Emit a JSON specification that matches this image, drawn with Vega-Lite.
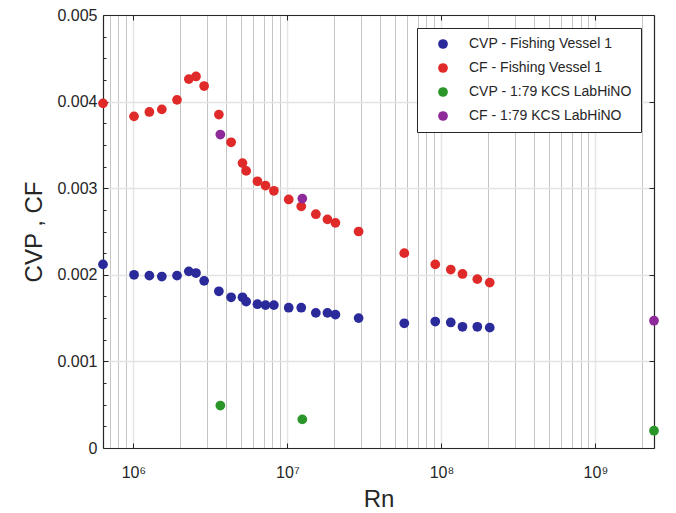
{
  "$schema": "https://vega.github.io/schema/vega-lite/v6.json",
  "width": 551,
  "height": 433,
  "autosize": {"type": "none"},
  "padding": {"left": 103, "top": 15, "right": 22, "bottom": 65},
  "background": "white",
  "config": {
    "view": {"stroke": null},
    "font": "Liberation Sans",
    "axis": {"labelFont": "Liberation Sans", "titleFont": "Liberation Sans", "labelColor": "#262626", "titleColor": "#262626", "domainColor": "#262626", "tickColor": "#262626", "titleFontWeight": "normal"}
  },
  "data": {
    "values": [
      {"Rn": 635000, "C": 0.00398, "series": "CF - Fishing Vessel 1"},
      {"Rn": 1010000, "C": 0.00383, "series": "CF - Fishing Vessel 1"},
      {"Rn": 1270000, "C": 0.00388, "series": "CF - Fishing Vessel 1"},
      {"Rn": 1530000, "C": 0.00391, "series": "CF - Fishing Vessel 1"},
      {"Rn": 1920000, "C": 0.00402, "series": "CF - Fishing Vessel 1"},
      {"Rn": 2290000, "C": 0.00426, "series": "CF - Fishing Vessel 1"},
      {"Rn": 2550000, "C": 0.00429, "series": "CF - Fishing Vessel 1"},
      {"Rn": 2880000, "C": 0.00418, "series": "CF - Fishing Vessel 1"},
      {"Rn": 3590000, "C": 0.00385, "series": "CF - Fishing Vessel 1"},
      {"Rn": 4310000, "C": 0.00353, "series": "CF - Fishing Vessel 1"},
      {"Rn": 5110000, "C": 0.00329, "series": "CF - Fishing Vessel 1"},
      {"Rn": 5400000, "C": 0.0032, "series": "CF - Fishing Vessel 1"},
      {"Rn": 6390000, "C": 0.00308, "series": "CF - Fishing Vessel 1"},
      {"Rn": 7210000, "C": 0.00303, "series": "CF - Fishing Vessel 1"},
      {"Rn": 8170000, "C": 0.00297, "series": "CF - Fishing Vessel 1"},
      {"Rn": 10200000, "C": 0.00287, "series": "CF - Fishing Vessel 1"},
      {"Rn": 12300000, "C": 0.00279, "series": "CF - Fishing Vessel 1"},
      {"Rn": 15300000, "C": 0.0027, "series": "CF - Fishing Vessel 1"},
      {"Rn": 18200000, "C": 0.00264, "series": "CF - Fishing Vessel 1"},
      {"Rn": 20500000, "C": 0.0026, "series": "CF - Fishing Vessel 1"},
      {"Rn": 29000000, "C": 0.0025, "series": "CF - Fishing Vessel 1"},
      {"Rn": 57400000, "C": 0.00225, "series": "CF - Fishing Vessel 1"},
      {"Rn": 91200000, "C": 0.00212, "series": "CF - Fishing Vessel 1"},
      {"Rn": 115000000, "C": 0.00206, "series": "CF - Fishing Vessel 1"},
      {"Rn": 137000000, "C": 0.00201, "series": "CF - Fishing Vessel 1"},
      {"Rn": 171000000, "C": 0.00195, "series": "CF - Fishing Vessel 1"},
      {"Rn": 206000000, "C": 0.00191, "series": "CF - Fishing Vessel 1"},
      {"Rn": 635000, "C": 0.00212, "series": "CVP - Fishing Vessel 1"},
      {"Rn": 1010000, "C": 0.002, "series": "CVP - Fishing Vessel 1"},
      {"Rn": 1270000, "C": 0.00199, "series": "CVP - Fishing Vessel 1"},
      {"Rn": 1530000, "C": 0.00198, "series": "CVP - Fishing Vessel 1"},
      {"Rn": 1920000, "C": 0.00199, "series": "CVP - Fishing Vessel 1"},
      {"Rn": 2290000, "C": 0.00204, "series": "CVP - Fishing Vessel 1"},
      {"Rn": 2550000, "C": 0.00202, "series": "CVP - Fishing Vessel 1"},
      {"Rn": 2880000, "C": 0.00193, "series": "CVP - Fishing Vessel 1"},
      {"Rn": 3590000, "C": 0.00181, "series": "CVP - Fishing Vessel 1"},
      {"Rn": 4310000, "C": 0.00174, "series": "CVP - Fishing Vessel 1"},
      {"Rn": 5110000, "C": 0.00174, "series": "CVP - Fishing Vessel 1"},
      {"Rn": 5400000, "C": 0.00169, "series": "CVP - Fishing Vessel 1"},
      {"Rn": 6390000, "C": 0.00166, "series": "CVP - Fishing Vessel 1"},
      {"Rn": 7210000, "C": 0.00165, "series": "CVP - Fishing Vessel 1"},
      {"Rn": 8170000, "C": 0.00165, "series": "CVP - Fishing Vessel 1"},
      {"Rn": 10200000, "C": 0.00162, "series": "CVP - Fishing Vessel 1"},
      {"Rn": 12300000, "C": 0.00162, "series": "CVP - Fishing Vessel 1"},
      {"Rn": 15300000, "C": 0.00156, "series": "CVP - Fishing Vessel 1"},
      {"Rn": 18200000, "C": 0.00156, "series": "CVP - Fishing Vessel 1"},
      {"Rn": 20500000, "C": 0.00154, "series": "CVP - Fishing Vessel 1"},
      {"Rn": 29000000, "C": 0.0015, "series": "CVP - Fishing Vessel 1"},
      {"Rn": 57400000, "C": 0.00144, "series": "CVP - Fishing Vessel 1"},
      {"Rn": 91200000, "C": 0.00146, "series": "CVP - Fishing Vessel 1"},
      {"Rn": 115000000, "C": 0.00145, "series": "CVP - Fishing Vessel 1"},
      {"Rn": 137000000, "C": 0.0014, "series": "CVP - Fishing Vessel 1"},
      {"Rn": 171000000, "C": 0.0014, "series": "CVP - Fishing Vessel 1"},
      {"Rn": 206000000, "C": 0.00139, "series": "CVP - Fishing Vessel 1"},
      {"Rn": 3670000, "C": 0.00049, "series": "CVP - 1:79 KCS LabHiNO"},
      {"Rn": 12500000, "C": 0.00033, "series": "CVP - 1:79 KCS LabHiNO"},
      {"Rn": 2400000000, "C": 0.0002, "series": "CVP - 1:79 KCS LabHiNO"},
      {"Rn": 3670000, "C": 0.00362, "series": "CF - 1:79 KCS LabHiNO"},
      {"Rn": 12500000, "C": 0.00288, "series": "CF - 1:79 KCS LabHiNO"},
      {"Rn": 2400000000, "C": 0.00147, "series": "CF - 1:79 KCS LabHiNO"}
    ]
  },
  "layer": [
    {
      "mark": {"type": "point", "filled": true, "opacity": 1, "size": 95, "shape": "circle", "clip": false},
      "encoding": {
        "x": {
          "field": "Rn", "type": "quantitative",
          "scale": {"type": "log", "domain": [635000, 2400000000], "nice": false},
          "axis": {
            "orient": "bottom", "title": "Rn", "titleFontSize": 24, "titlePadding": 7,
            "labelFontSize": 16, "labelPadding": 21, "labelFlush": false,
            "values": [700000, 800000, 900000, 1000000, 2000000, 3000000, 4000000, 5000000, 6000000, 7000000, 8000000, 9000000, 10000000, 20000000, 30000000, 40000000, 50000000, 60000000, 70000000, 80000000, 90000000, 100000000, 200000000, 300000000, 400000000, 500000000, 600000000, 700000000, 800000000, 900000000, 1000000000, 2000000000],
            "labelExpr": "datum.value == 1000000 ? '10⁶' : datum.value == 10000000 ? '10⁷' : datum.value == 100000000 ? '10⁸' : datum.value == 1000000000 ? '10⁹' : ''",
            "grid": true,
            "gridColor": {"condition": {"test": "indexof([1000000,10000000,100000000,1000000000], datum.value) >= 0", "value": "#e6e6e6"}, "value": "#c4c4c4"},
            "gridWidth": {"condition": {"test": "indexof([1000000,10000000,100000000,1000000000], datum.value) >= 0", "value": 1.5}, "value": 1},
            "tickSize": -5,
            "tickOpacity": {"condition": {"test": "indexof([1000000,10000000,100000000,1000000000], datum.value) >= 0", "value": 1}, "value": 0},
            "domainWidth": 1.2
          }
        },
        "y": {
          "field": "C", "type": "quantitative",
          "scale": {"domain": [0, 0.005], "nice": false},
          "axis": {
            "orient": "left", "title": "CVP , CF", "titleFontSize": 24, "titlePadding": 10,
            "labelFontSize": 16, "labelPadding": 11,
            "values": [0, 0.00025, 0.0005, 0.00075, 0.001, 0.00125, 0.0015, 0.00175, 0.002, 0.00225, 0.0025, 0.00275, 0.003, 0.00325, 0.0035, 0.00375, 0.004, 0.00425, 0.0045, 0.00475, 0.005],
            "labelExpr": "abs(datum.value*1000 - round(datum.value*1000)) < 0.0001 ? (datum.value == 0 ? '0' : format(datum.value, '.3f')) : ''",
            "grid": true,
            "gridColor": "#e3e3e3",
            "gridWidth": 1.5,
            "gridOpacity": {"condition": {"test": "abs(datum.value*1000 - round(datum.value*1000)) < 0.0001", "value": 1}, "value": 0},
            "tickSize": {"condition": {"test": "abs(datum.value*1000 - round(datum.value*1000)) < 0.0001", "value": -5}, "value": -3},
            "domainWidth": 1.2
          }
        },
        "color": {
          "field": "series", "type": "nominal",
          "scale": {
            "domain": ["CVP - Fishing Vessel 1", "CF - Fishing Vessel 1", "CVP - 1:79 KCS LabHiNO", "CF - 1:79 KCS LabHiNO"],
            "range": ["#2a2a9a", "#e02a2a", "#2a962a", "#8e2a9a"]
          },
          "legend": {
            "title": null, "orient": "top-right", "offset": 13,
            "labelFont": "Liberation Sans", "labelFontSize": 14, "labelColor": "#262626",
            "symbolType": "circle", "symbolSize": 95, "symbolStrokeWidth": 0,
            "padding": 9, "rowPadding": 10, "labelOffset": 19, "symbolOffset": 10,
            "strokeColor": "#262626", "fillColor": "white", "labelLimit": 300
          }
        }
      }
    },
    {
      "mark": {"type": "point", "opacity": 0},
      "encoding": {
        "x": {
          "field": "Rn", "type": "quantitative",
          "axis": {"orient": "top", "title": null, "labels": false, "grid": false, "values": [1000000, 10000000, 100000000, 1000000000], "tickSize": -5, "domainWidth": 1.2}
        },
        "y": {
          "field": "C", "type": "quantitative",
          "axis": {"orient": "right", "title": null, "labels": false, "grid": false, "values": [0, 0.001, 0.002, 0.003, 0.004, 0.005], "tickSize": -5, "domainWidth": 1.2}
        }
      }
    }
  ],
  "resolve": {"axis": {"x": "independent", "y": "independent"}}
}
